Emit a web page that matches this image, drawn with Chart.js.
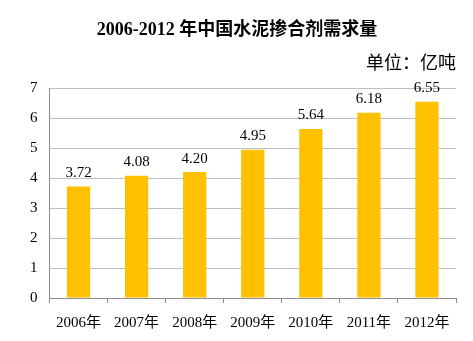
<!DOCTYPE html>
<html>
<head>
<meta charset="utf-8">
<script src="https://cdn.jsdelivr.net/npm/chart.js@4/dist/chart.umd.min.js"></script>
<style>
  html, body { margin: 0; padding: 0; background: #fff; }
  #wrap { width: 473px; height: 341px; }
</style>
</head>
<body>
<div id="wrap"><canvas id="demandBar"></canvas></div>
<script>
// 水泥掺合剂需求量 (亿吨)
const years = ['2006年', '2007年', '2008年', '2009年', '2010年', '2011年', '2012年'];
const demand = [3.72, 4.08, 4.20, 4.95, 5.64, 6.18, 6.55];
const yTicks = [0, 1, 2, 3, 4, 5, 6, 7];

const fontFamily = "'Liberation Serif', 'Noto Sans CJK SC', serif";

// value labels above each bar
const barLabels = {
    id: 'barLabels',
    afterDatasetsDraw(chart) {
        const ctx = chart.ctx;
        const meta = chart.getDatasetMeta(0);
        ctx.save();
        ctx.font = '15px ' + fontFamily;
        ctx.fillStyle = '#000';
        ctx.textAlign = 'center';
        ctx.textBaseline = 'bottom';
        meta.data.forEach((bar, i) => {
            ctx.fillText(demand[i].toFixed(2), bar.x, bar.y - 6);
        });
        ctx.restore();
    }
};

new Chart(document.getElementById('demandBar').getContext('2d'), {
    type: 'bar',
    data: {
        labels: years,
        datasets: [{
            data: demand,
            backgroundColor: '#ffc000',
            borderWidth: 0,
            barPercentage: 0.4,
            categoryPercentage: 1.0
        }]
    },
    options: {
        responsive: true,
        maintainAspectRatio: false,
        animation: false,
        layout: { padding: { left: 18, right: 17, bottom: -2 } },
        plugins: {
            legend: { display: false },
            tooltip: { enabled: false },
            title: {
                display: true,
                text: '2006-2012 年中国水泥掺合剂需求量',
                color: '#000',
                font: { family: fontFamily, size: 18, weight: 'bold' },
                padding: { top: 20, bottom: 12 }
            },
            subtitle: {
                display: true,
                text: '单位：亿吨',
                align: 'end',
                color: '#000',
                font: { family: fontFamily, size: 18 },
                padding: { top: 0, bottom: 13 }
            }
        },
        scales: {
            y: {
                min: 0,
                max: 7,
                afterBuildTicks: axis => { axis.ticks = yTicks.map(v => ({ value: v })); },
                ticks: {
                    color: '#000',
                    font: { family: fontFamily, size: 15 },
                    padding: 12
                },
                grid: { color: '#bfbfbf', drawTicks: false },
                border: { color: '#8c8c8c' }
            },
            x: {
                ticks: {
                    color: '#000',
                    font: { family: fontFamily, size: 15 },
                    padding: 11,
                    maxRotation: 0
                },
                grid: {
                    offset: true,
                    drawOnChartArea: false,
                    tickLength: 5,
                    color: '#8c8c8c'
                },
                border: { color: '#8c8c8c' }
            }
        }
    },
    plugins: [barLabels]
});
</script>
</body>
</html>
